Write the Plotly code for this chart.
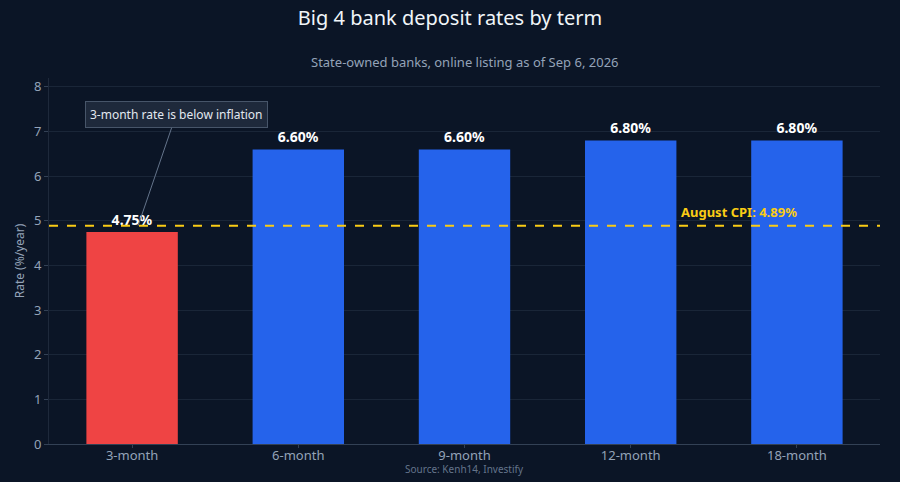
import plotly.graph_objects as go

# Data
terms = ["3-month", "6-month", "9-month", "12-month", "18-month"]
rates = [4.75, 6.60, 6.60, 6.80, 6.80]
cpi_august = 4.89

bar_colors = ["#ef4444" if r < cpi_august else "#2563eb" for r in rates]

fig = go.Figure()

fig.add_trace(
    go.Bar(
        x=terms,
        y=rates,
        marker=dict(color=bar_colors, line=dict(width=0)),
        width=0.55,
        text=[f"{r:.2f}%" for r in rates],
        textposition="outside",
        textfont=dict(color="#ffffff", size=14, family="Noto Sans", weight="bold"),
        cliponaxis=False,
        hovertemplate="%{x}: %{y:.2f}%<extra></extra>",
    )
)

# Inflation reference line
fig.add_hline(
    y=cpi_august,
    line=dict(color="#facc15", width=2, dash="dash"),
)

fig.add_annotation(
    x=0.758,
    xref="paper",
    y=cpi_august,
    yref="y",
    xanchor="left",
    yanchor="bottom",
    yshift=3,
    text="<b>August CPI: 4.89%</b>",
    showarrow=False,
    font=dict(color="#facc15", size=13, family="Noto Sans"),
)

fig.add_annotation(
    x="3-month",
    y=cpi_august,
    xshift=6,
    text="3-month rate is below inflation",
    showarrow=True,
    arrowhead=0,
    arrowwidth=1,
    arrowcolor="#64748b",
    ax=38,
    ay=-111,
    bgcolor="#1e293b",
    bordercolor="#475569",
    borderwidth=1,
    borderpad=4,
    font=dict(color="#e2e8f0", size=12, family="Noto Sans"),
)

# Subtitle
fig.add_annotation(
    x=0.5,
    xref="paper",
    y=1.044,
    yref="paper",
    yanchor="middle",
    text="State-owned banks, online listing as of Sep 6, 2026",
    showarrow=False,
    font=dict(color="#94a3b8", size=13, family="Noto Sans"),
)

# Source note
fig.add_annotation(
    x=0.5,
    xref="paper",
    y=-0.068,
    yref="paper",
    yanchor="middle",
    text="Source: Kenh14, Investify",
    showarrow=False,
    font=dict(color="#64748b", size=10, family="Noto Sans"),
)

fig.update_layout(
    width=900,
    height=482,
    title=dict(
        text="Big 4 bank deposit rates by term",
        x=0.5,
        xanchor="center",
        y=0.962,
        yanchor="middle",
        font=dict(color="#f1f5f9", size=20, family="Noto Sans"),
    ),
    paper_bgcolor="#0b1526",
    plot_bgcolor="#0b1526",
    font=dict(family="Noto Sans", color="#94a3b8"),
    margin=dict(l=49, r=20, t=78, b=38),
    showlegend=False,
    bargap=0.45,
)

fig.update_xaxes(
    showgrid=False,
    showline=True,
    linecolor="#334155",
    ticks="outside",
    ticklen=3,
    tickcolor="#334155",
    ticklabelstandoff=-4,
    tickfont=dict(size=13, color="#94a3b8"),
)

fig.update_yaxes(
    range=[0, 8.2],
    dtick=1,
    title=dict(text="Rate (%/year)", font=dict(size=12, color="#94a3b8"), standoff=6),
    showgrid=True,
    gridcolor="#1a2638",
    zeroline=False,
    showline=True,
    linecolor="#1e293b",
    ticks="outside",
    ticklen=4,
    tickcolor="#334155",
    tickfont=dict(size=13, color="#94a3b8"),
)

fig.write_html(
    "out.html",
    config={"displayModeBar": False},
    post_script="document.body.style.margin='0';",
)
